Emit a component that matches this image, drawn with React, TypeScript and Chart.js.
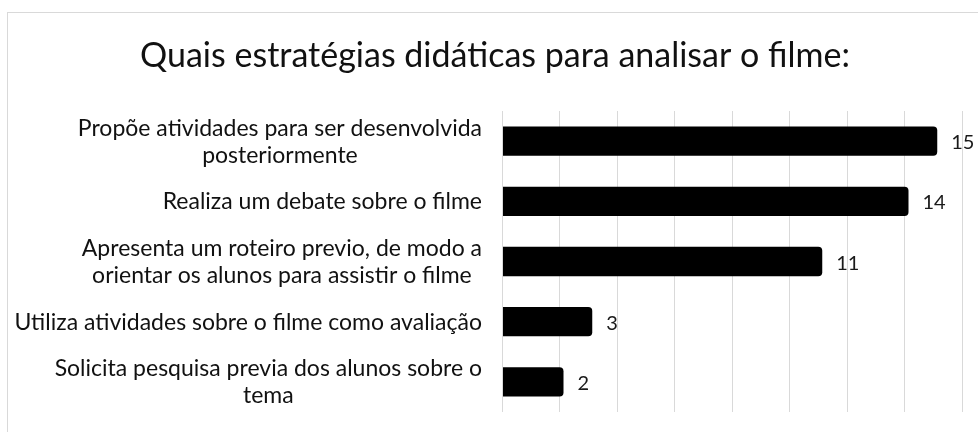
import React, { useEffect, useRef } from "react";
import { Chart, registerables } from "chart.js";

Chart.register(...registerables);

const title = "Quais estratégias didáticas para analisar o filme:";
const categories: string[][] = [
  ["Propõe atividades para ser desenvolvida", "posteriormente"],
  ["Realiza um debate sobre o filme"],
  ["Apresenta um roteiro previo, de modo a", "orientar os alunos para assistir o filme"],
  ["Utiliza atividades sobre o filme como avaliação"],
  ["Solicita pesquisa previa dos alunos sobre o", "tema"],
];
const values = [15, 14, 11, 3, 2];
const xMin = 0;
const xMax = 16;
const xStep = 2;

const FONT = "Lato, Carlito, 'Open Sans', sans-serif";

export default function App() {
  const ref = useRef<HTMLCanvasElement>(null);
  useEffect(() => {
    const canvas = ref.current!;
    const overlay = {
      id: "overlay",
      afterDraw(chart: any) {
        const ctx = chart.ctx;
        const ys = chart.scales.y;
        const xs = chart.scales.x;
        ctx.save();
        ctx.textBaseline = "alphabetic";
        // title
        ctx.fillStyle = "#111111";
        ctx.font = `34px ${FONT}`;
        ctx.textAlign = "center";
        ctx.fillText(title, 495, 67);
        // category labels
        ctx.font = `23px ${FONT}`;
        ctx.fillStyle = "#111111";
        const lineH = 27;
        const rightX = 482;
        categories.forEach((lines, i) => {
          const yc = ys.getPixelForValue(i);
          const w = Math.max(...lines.map((l) => ctx.measureText(l).width));
          const cx = rightX - w / 2;
          lines.forEach((l, j) => {
            ctx.fillText(l, cx, yc + 8 + (j - (lines.length - 1) / 2) * lineH);
          });
        });
        // value labels
        ctx.fillStyle = "#1a1a1a";
        ctx.font = `20px ${FONT}`;
        ctx.textAlign = "left";
        values.forEach((v, i) => {
          ctx.fillText(String(v), xs.getPixelForValue(v) + 18, ys.getPixelForValue(i) + 8);
        });
        ctx.restore();
      },
    };
    const chart = new Chart(canvas, {
      type: "bar",
      data: {
        labels: categories.map((c) => c.join(" ")),
        datasets: [
          {
            data: values,
            backgroundColor: "#000000",
            borderRadius: 4,
            borderSkipped: "start",
            inflateAmount: 4,
            categoryPercentage: 1,
            barPercentage: 0.354,
            clip: { left: -1, top: 20, right: 30, bottom: 20 },
          },
        ],
      },
      options: {
        indexAxis: "y",
        animation: false,
        responsive: false,
        maintainAspectRatio: false,
        layout: { padding: { top: 111, right: 16, bottom: 20, left: 502 } },
        plugins: { legend: { display: false }, tooltip: { enabled: false }, title: { display: false } },
        scales: {
          x: {
            min: xMin,
            max: xMax,
            ticks: { display: false, stepSize: xStep },
            grid: { color: "#d9d9d9", lineWidth: 1, drawTicks: false },
            border: { display: false },
          },
          y: { display: false },
        },
      },
      plugins: [overlay],
    });
    return () => chart.destroy();
  }, []);
  return (
    <div style={{ position: "absolute", left: 0, top: 0, width: 978, height: 432, background: "#fff", overflow: "hidden" }}>
      <div
        style={{
          position: "absolute",
          left: 7,
          top: 12,
          width: 1000,
          height: 500,
          borderTop: "1px solid #d9d9d9",
          borderLeft: "1px solid #d9d9d9",
        }}
      />
      <canvas ref={ref} width={978} height={432} style={{ position: "absolute", left: 0, top: 0, width: 978, height: 432 }} />
    </div>
  );
}
